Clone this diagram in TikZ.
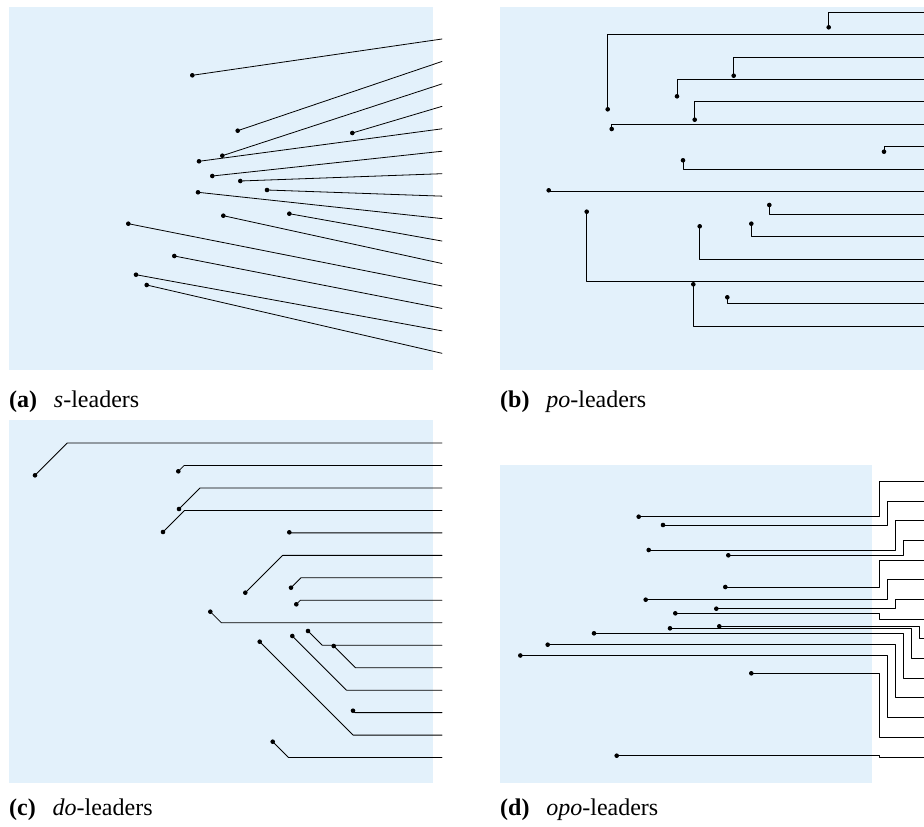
\documentclass[tikz,border=0pt]{standalone}
\usepackage{fontspec}
\setmainfont{Liberation Serif}

\definecolor{panelblue}{RGB}{227,241,251}

\begin{document}
\begin{tikzpicture}[x=1pt, y=-1pt, line cap=round, line join=round,
  leader/.style={line width=0.8pt},
  site/.style={circle, fill, inner sep=0pt, minimum size=4.6pt},
  caption/.style={anchor=base west, inner sep=0pt, font=\fontsize{24}{27}\selectfont}]

  \useasboundingbox (0,0) rectangle (924,827);

  % panels
  \fill[panelblue] (9,7) rectangle (433,370);
  \fill[panelblue] (500,7) rectangle (924,370);
  \fill[panelblue] (9,420) rectangle (433,782.7);
  \fill[panelblue] (500,465) rectangle (871.7,782.7);

  % (a) straight leaders
  \foreach \px/\py [count=\i] in {192.3/75.3, 237.7/130.7, 222.3/155.7, 352.3/133,
      199/161.3, 212.3/176, 240.3/181, 267/190, 198/192.3, 289.3/213.7,
      223.3/215.7, 128.3/223.7, 174.3/256, 136/274.7, 146.7/285}{
    \pgfmathsetmacro\ly{39+(\i-1)*22.45}
    \node[site] (a-p\i) at (\px,\py) {};
    \coordinate (a-l\i) at (442,\ly);
    \draw[leader] (a-p\i.center) -- (a-l\i);
  }

  % (b) one bend: vertical, then horizontal
  \foreach \px/\py [count=\i] in {828.7/27.3, 607.7/109.3, 733.7/75.7, 677/96.3,
      694.7/119.7, 611.7/129, 884/151.7, 683/160.3, 548.7/190.3, 769.3/205,
      751.3/223.7, 699.7/226.3, 586.7/211.7, 727.3/297.3, 693.3/284.3}{
    \pgfmathsetmacro\ly{12+(\i-1)*22.45}
    \node[site] (b-p\i) at (\px,\py) {};
    \coordinate (b-l\i) at (924,\ly);
    \draw[leader] (b-p\i.center) |- (b-l\i);
  }

  % (c) diagonal at 45 degrees, then horizontal
  \foreach \px/\py [count=\i] in {35/475.3, 178.3/471.3, 179/509, 163/532,
      289.3/532.3, 245.3/592.7, 291/587.7, 296.3/604.3, 210.3/611.7, 308/631,
      333.7/646, 292.3/636, 353/710.7, 259.7/641.7, 272.7/741.7}{
    \pgfmathsetmacro\ly{443+(\i-1)*22.47}
    \pgfmathsetmacro\bx{\px+abs(\ly-\py)}
    \node[site] (c-p\i) at (\px,\py) {};
    \coordinate (c-l\i) at (442,\ly);
    \draw[leader] (c-p\i.center) -- (\bx,\ly) -- (c-l\i);
  }

  % (d) horizontal, vertical in a track, horizontal
  \foreach \px/\py/\tr [count=\i] in {638.7/516.7/0, 663/525/1, 648.7/550/2,
      728.3/555.3/3, 725.3/587/0, 645.7/599.7/1, 716.3/608.7/2, 675.3/613.3/0,
      719.3/626.3/5, 670/628.3/4, 594/633.3/3, 547.7/644.7/2, 520.3/655.5/1,
      751.3/673.3/0, 616.7/755.7/0}{
    \pgfmathsetmacro\ly{481.3+(\i-1)*19.69}
    \pgfmathsetmacro\tx{879.3+\tr*8}
    \node[site] (d-p\i) at (\px,\py) {};
    \coordinate (d-l\i) at (924,\ly);
    \draw[leader] (d-p\i.center) -- (\tx,\py) |- (d-l\i);
  }

  \node[caption] (capa) at (9,407.7)   {\textbf{(a)}\hspace{0.7em}\textit{s}-leaders};
  \node[caption] (capb) at (500,407.7) {\textbf{(b)}\hspace{0.7em}\textit{po}-leaders};
  \node[caption] (capc) at (9,815)     {\textbf{(c)}\hspace{0.7em}\textit{do}-leaders};
  \node[caption] (capd) at (500,815)   {\textbf{(d)}\hspace{0.7em}\textit{opo}-leaders};

\end{tikzpicture}
\end{document}
